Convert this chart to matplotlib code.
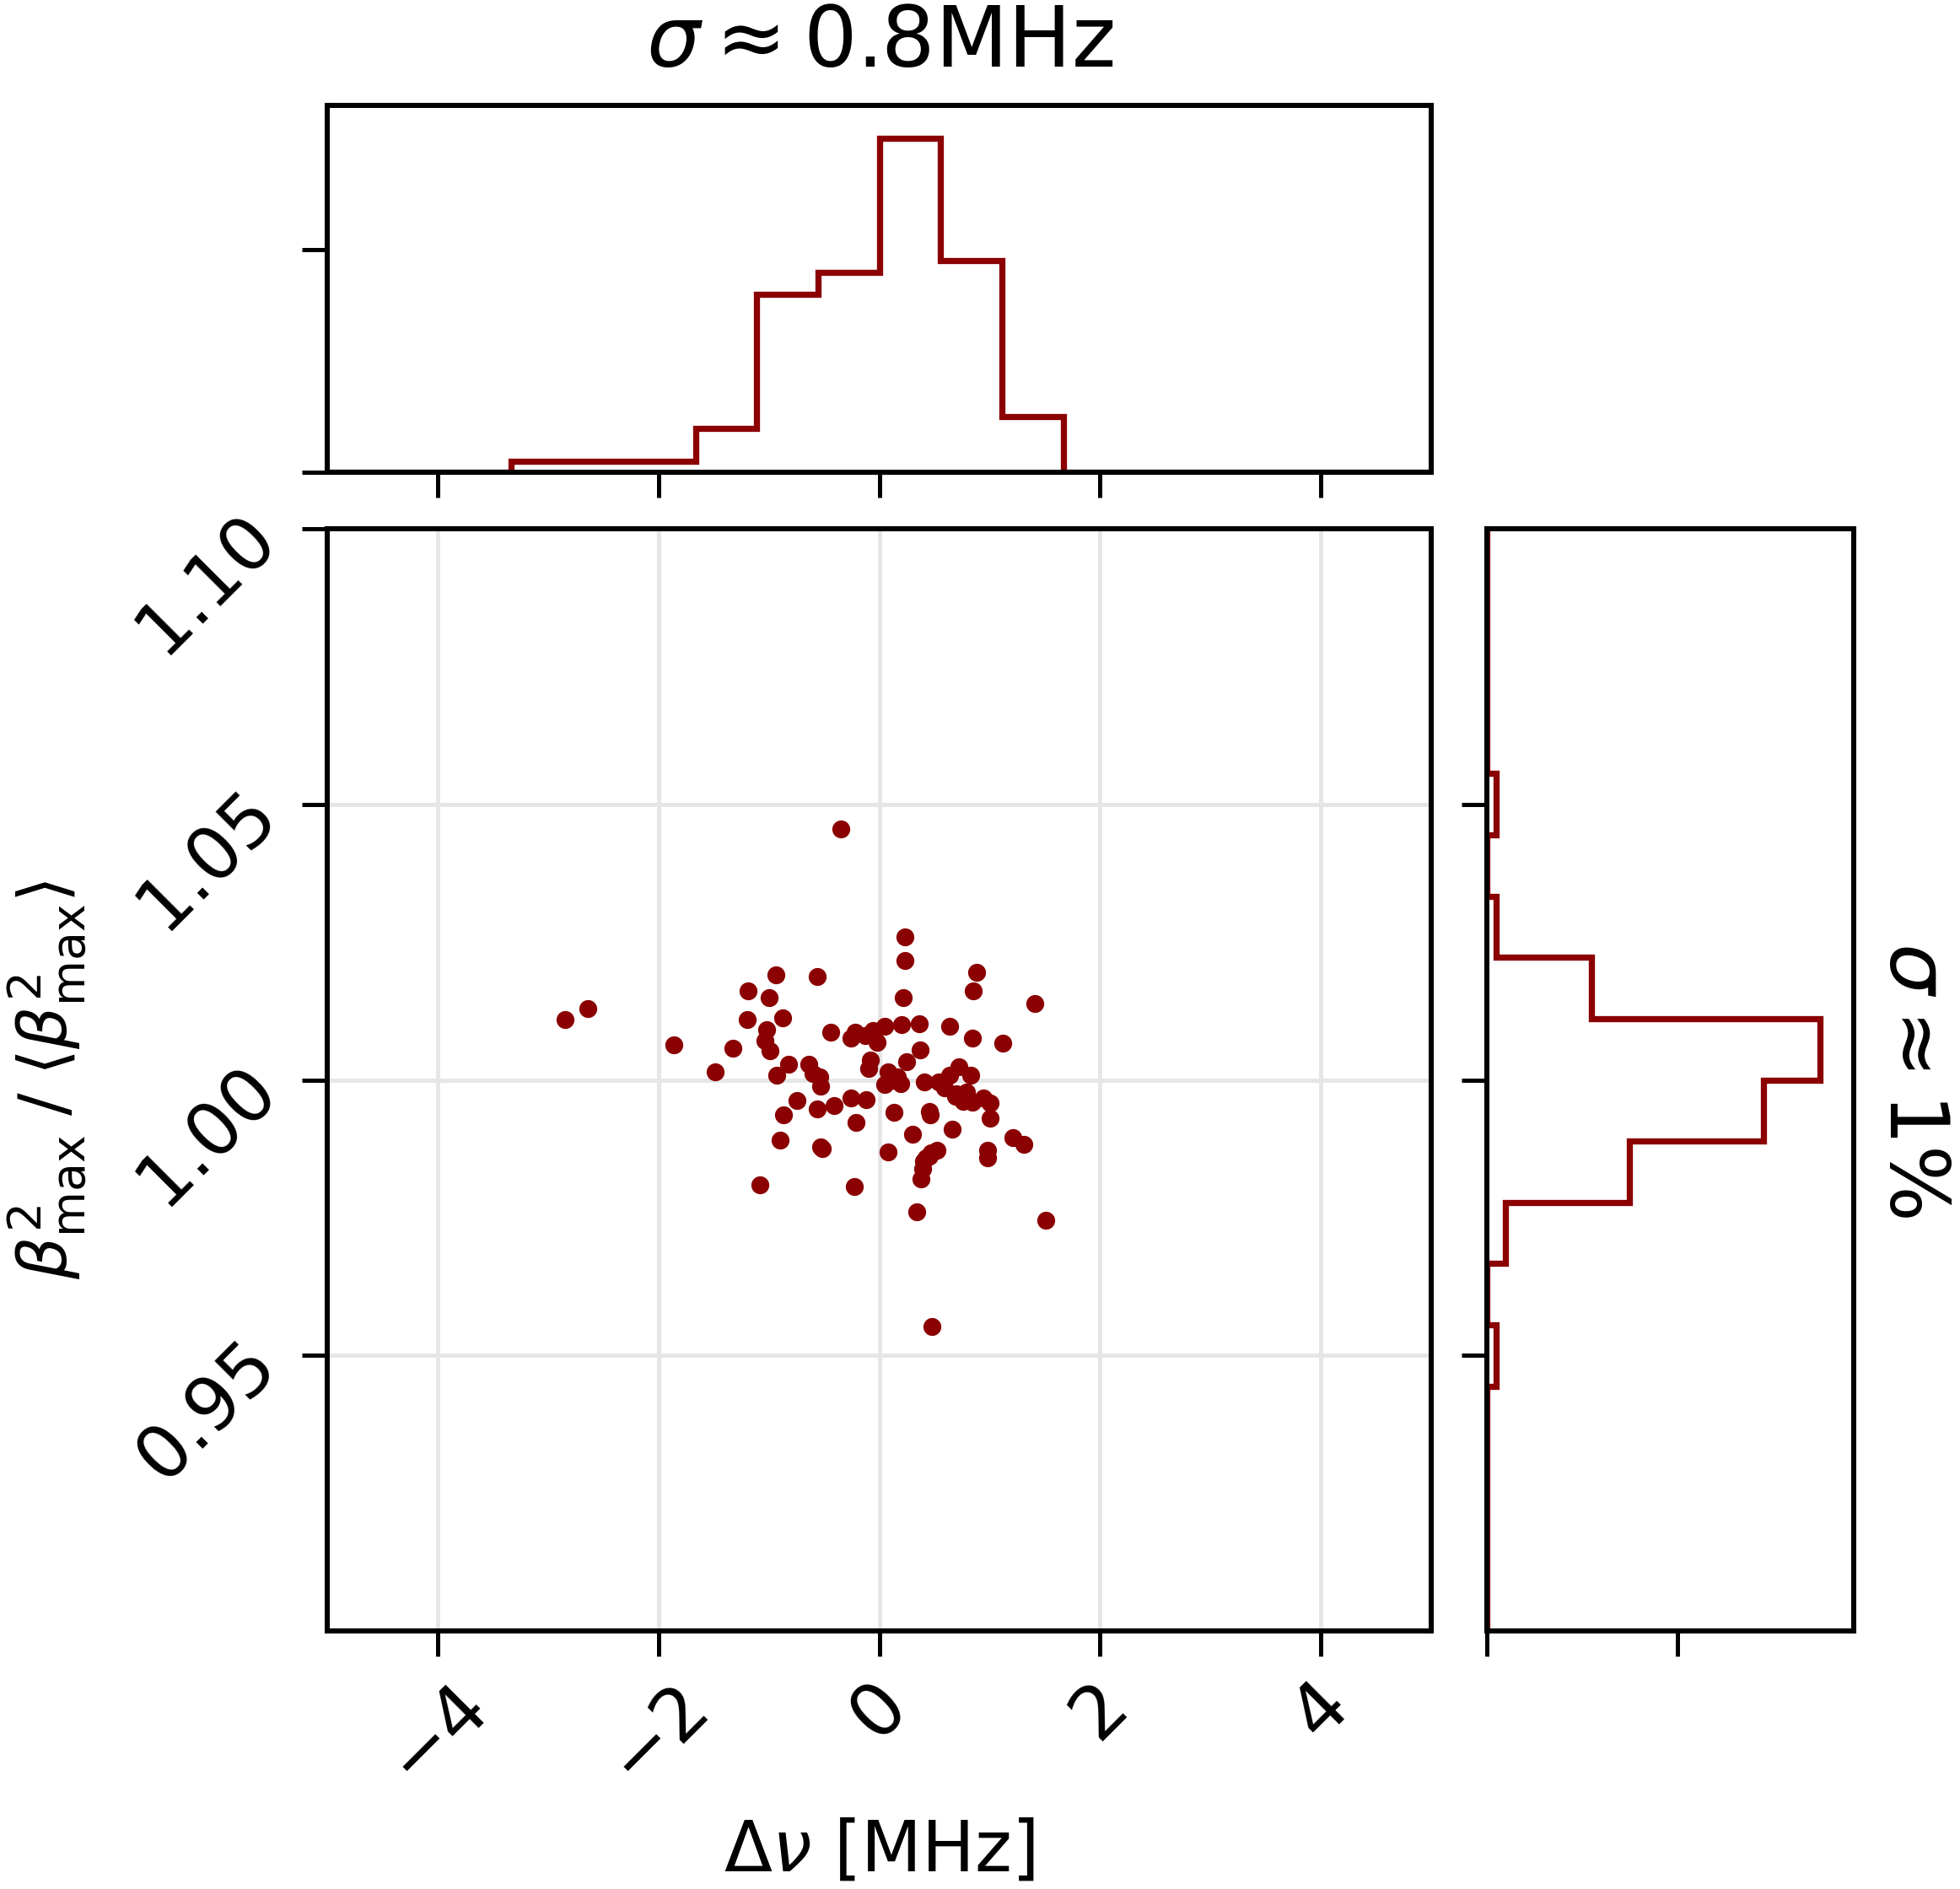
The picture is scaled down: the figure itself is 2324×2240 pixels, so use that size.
import numpy as np
import matplotlib
matplotlib.use("Agg")
import matplotlib.pyplot as plt

# frequency offset [MHz] and normalised beta^2_max for each shot
dnu = [-0.35, 0.23, 0.23, -0.94, -0.56, 0.88, -1.19, -1.00, 0.85, 0.22,
       1.41, -2.64, -2.85, -1.20, -0.88, -1.02, -0.44, -0.26, -0.22, -0.13,
       -0.06, -0.02, 0.05, 0.20, 0.36, 0.64, 0.84, 1.12, -1.86, -1.33,
       -1.04, -0.99, 0.37, -1.49, -0.82, -0.93, -0.64, -0.60, -0.54, -0.53,
       -0.08, -0.10, 0.25, 0.08, 0.11, 0.05, 0.19, 0.16, 0.41, 0.54,
       0.64, 0.72, 0.83, 0.59, 0.69, 0.76, 0.84, 0.94, 1.00, 1.00,
       -0.75, -0.26, -0.12, -0.41, -0.56, -0.87, -0.21, 0.13, 0.45, 0.46,
       0.30, 0.66, -0.90, -0.53, 0.08, 0.52, 0.45, 0.40, 0.39, 0.38,
       0.98, 0.98, 1.21, 1.31, -1.08, -0.23, 0.34, 1.51, 0.48, 0.79,
       0.70, 0.42, 0.47, -0.52, 0.14]
beta = [1.0455, 1.0259, 1.0216, 1.0191, 1.0188, 1.0195, 1.0161, 1.0149, 1.0161, 1.0149,
        1.0139, 1.0130, 1.0109, 1.0109, 1.0113, 1.0091, 1.0087, 1.0076, 1.0087, 1.0081,
        1.0089, 1.0069, 1.0098, 1.0100, 1.0102, 1.0097, 1.0076, 1.0066, 1.0063, 1.0057,
        1.0072, 1.0053, 1.0054, 1.0014, 1.0029, 1.0008, 1.0028, 1.0012, 1.0005, 0.9988,
        1.0036, 1.0021, 1.0033, 1.0014, 0.9999, 0.9991, 0.9994, 1.0005, 0.9997, 0.9997,
        1.0009, 1.0024, 1.0008, 0.9985, 0.9971, 0.9961, 0.9960, 0.9968, 0.9958, 0.9930,
        0.9962, 0.9968, 0.9964, 0.9953, 0.9947, 0.9937, 0.9923, 0.9941, 0.9943, 0.9937,
        0.9901, 0.9910, 0.9891, 0.9879, 0.9870, 0.9872, 0.9862, 0.9853, 0.9838, 0.9821,
        0.9872, 0.9859, 0.9896, 0.9883, 0.9809, 0.9806, 0.9761, 0.9745, 0.9553, 0.9978,
        0.9975, 0.9858, 0.9868, 0.9876, 1.0006]

# marginal histograms (18 bins over the plotted ranges)
dnu_range = (-5, 5)
beta_range = (0.9, 1.1)
n_bins = 18
dnu_counts = [0, 0, 0, 1, 1, 1, 4, 16, 18, 30, 19, 5, 0, 0, 0, 0, 0, 0]
beta_counts = [0, 0, 0, 0, 1, 0, 2, 15, 29, 35, 11, 1, 0, 1, 0, 0, 0, 0]

dnu_ticks = [-4, -2, 0, 2, 4]
beta_ticks = [0.95, 1.00, 1.05, 1.10]
count_ticks = [0, 20]

col = "darkred"

plt.rcParams["font.size"] = 21
plt.rcParams["axes.linewidth"] = 1.45
plt.rcParams["xtick.major.width"] = 1.2
plt.rcParams["ytick.major.width"] = 1.2
plt.rcParams["xtick.major.size"] = 7.2
plt.rcParams["ytick.major.size"] = 7.2

fig = plt.figure(figsize=(2324 / 300, 2240 / 300), dpi=300)
ax = fig.add_axes([0.1671, 0.1365, 0.5631, 0.5836])
ax_top = fig.add_axes([0.1671, 0.7498, 0.5631, 0.1946])
ax_r = fig.add_axes([0.7584, 0.1365, 0.1874, 0.5836])

dnu_edges = np.linspace(*dnu_range, n_bins + 1)
beta_edges = np.linspace(*beta_range, n_bins + 1)

# main scatter
ax.scatter(dnu, beta, s=26, color=col, linewidths=0, zorder=3)
ax.set_xlim(dnu_range)
ax.set_ylim(beta_range)
ax.set_xticks(dnu_ticks)
ax.set_yticks(beta_ticks)
ax.grid(True, color="0.9", lw=1.2)
ax.set_axisbelow(True)
for l in ax.get_xticklabels():
    l.set_rotation(45)
for l in ax.get_yticklabels():
    l.set_rotation(45)
ax.set_xlabel(r"$\Delta\nu$ [MHz]", fontsize=20, labelpad=6)
ax.set_ylabel(r"$\beta^2_{\rm max}\;/\;\langle\beta^2_{\rm max}\rangle$",
              fontsize=19, labelpad=10)

# top histogram
ax_top.stairs(dnu_counts, dnu_edges, color=col, lw=1.75)
ax_top.set_xlim(dnu_range)
ax_top.set_ylim(0, 1.1 * max(dnu_counts))
ax_top.set_xticks(dnu_ticks)
ax_top.set_yticks(count_ticks)
ax_top.set_xticklabels([])
ax_top.set_yticklabels([])
ax_top.set_title(r"$\sigma \approx 0.8$MHz", fontsize=24, pad=11)

# right histogram
ax_r.stairs(beta_counts, beta_edges, orientation="horizontal", color=col, lw=1.75)
ax_r.set_ylim(beta_range)
ax_r.set_xlim(0, 1.1 * max(beta_counts))
ax_r.set_yticks(beta_ticks[:3])
ax_r.set_xticks(count_ticks)
ax_r.set_xticklabels([])
ax_r.set_yticklabels([])
ax_r.text(1.16, 0.5, r"$\sigma \approx 1\%$", transform=ax_r.transAxes,
          rotation=270, ha="center", va="center", fontsize=23)

fig.savefig("out.png", dpi=300)
